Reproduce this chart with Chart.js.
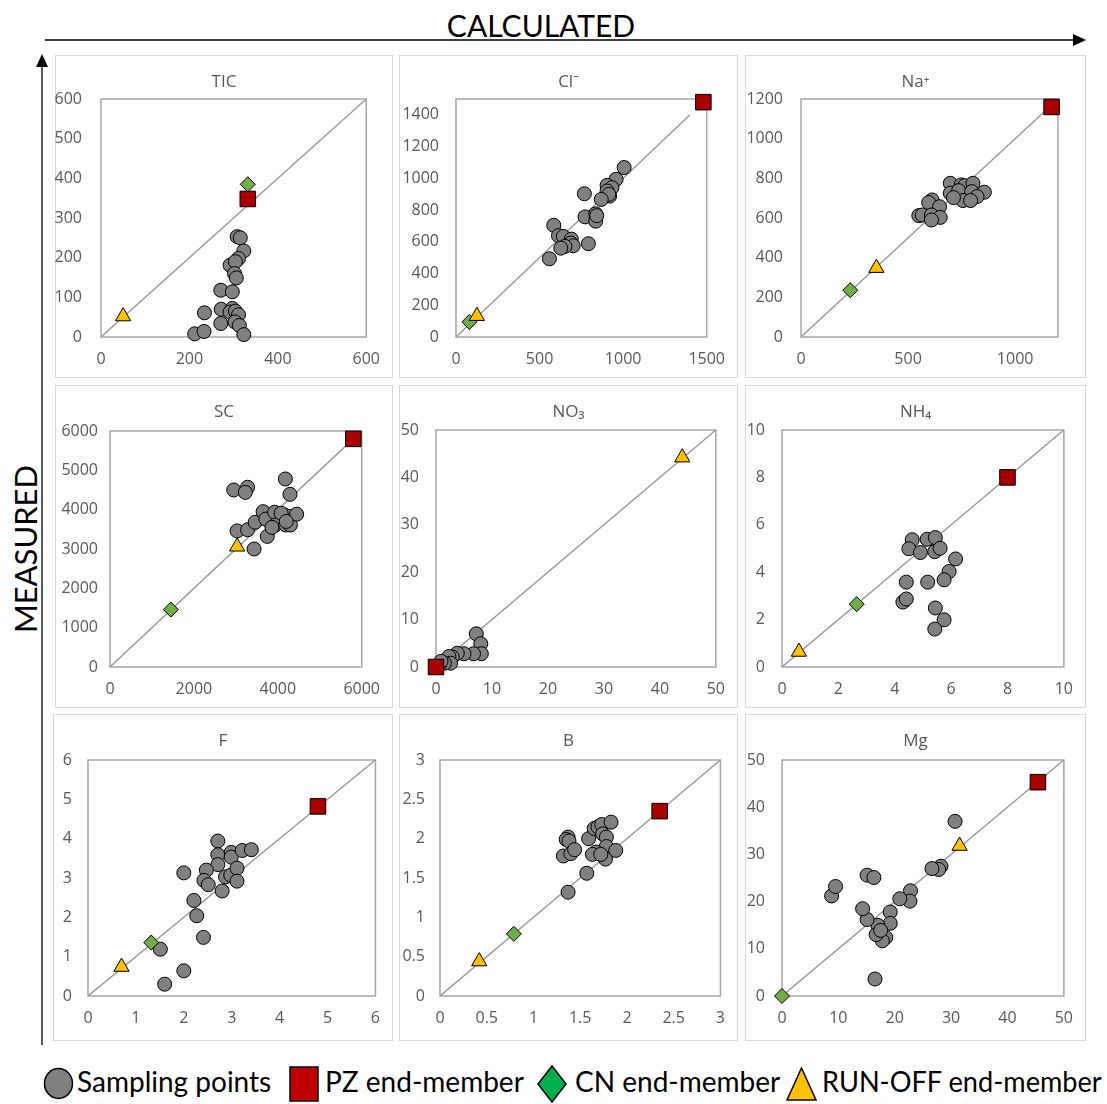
<!DOCTYPE html>
<html>
<head>
<meta charset="utf-8">
<script src="https://cdn.jsdelivr.net/npm/chart.js@4.4.1/dist/chart.umd.min.js"></script>
<style>
  body { margin: 0; background: #fff; width: 1107px; height: 1104px; position: relative; overflow: hidden; font-family: Lato, 'Open Sans', sans-serif; }
  canvas.panel { position: absolute; }
  .axis-title { position: absolute; font-size: 30px; line-height: 1; color: #000; white-space: nowrap; }
  .legend-text { position: absolute; top: 1067px; font-size: 28px; line-height: 1; color: #000; white-space: nowrap; transform-origin: 0 50%; }
  .legend-mark { position: absolute; }
</style>
</head>
<body>

<svg width="1107" height="1104" style="position:absolute;left:0;top:0">
  <line x1="45" y1="40" x2="1076" y2="40" stroke="#000" stroke-width="1.3"/>
  <polygon points="1086,40 1073,34 1073,46" fill="#000"/>
  <line x1="42" y1="1045" x2="42" y2="64" stroke="#000" stroke-width="1.3"/>
  <polygon points="42,54 36,67 48,67" fill="#000"/>
</svg>

<div class="axis-title" style="left:541px; top:10px; transform:translateX(-50%)">CALCULATED</div>
<div class="axis-title" style="left:25px; top:549px; font-size:31px; transform:translate(-50%,-50%) rotate(-90deg)">MEASURED</div>

<svg class="legend-mark" style="left:43px; top:1067px" width="31" height="33">
  <ellipse cx="15.5" cy="16.5" rx="14" ry="15" fill="#808080" stroke="#000" stroke-width="1.5"/>
</svg>
<div class="legend-text" style="left:77px">Sampling points</div>
<svg class="legend-mark" style="left:289px; top:1066px" width="31" height="37">
  <rect x="1" y="1" width="28" height="34" fill="#c00000" stroke="#000" stroke-width="1.5"/>
</svg>
<div class="legend-text" style="left:325px">PZ end-member</div>
<svg class="legend-mark" style="left:536px; top:1065px" width="32" height="38">
  <polygon points="16,1 30,19 16,37 2,19" fill="#00b050" stroke="#000" stroke-width="1.5"/>
</svg>
<div class="legend-text" style="left:575px">CN end-member</div>
<svg class="legend-mark" style="left:785px; top:1067px" width="33" height="35">
  <polygon points="16.5,1 31,33 2,33" fill="#ffc000" stroke="#000" stroke-width="1.5"/>
</svg>
<div class="legend-text" style="left:822px; transform:scaleX(0.97)">RUN-OFF end-member</div>

<script>
// Measured vs calculated concentrations, one panel per parameter.
const titles = ['TIC', 'Cl⁻', 'Na⁺', 'SC', 'NO₃', 'NH₄', 'F', 'B', 'Mg'];
const axisMax = [600, 1500, 1200, 6000, 50, 10, 6, 3, 50];
const xTicks = [
  [0, 200, 400, 600],
  [0, 500, 1000, 1500],
  [0, 500, 1000],
  [0, 2000, 4000, 6000],
  [0, 10, 20, 30, 40, 50],
  [0, 2, 4, 6, 8, 10],
  [0, 1, 2, 3, 4, 5, 6],
  [0, 0.5, 1, 1.5, 2, 2.5, 3],
  [0, 10, 20, 30, 40, 50],
];
const yTicks = [
  [0, 100, 200, 300, 400, 500, 600],
  [0, 200, 400, 600, 800, 1000, 1200, 1400],
  [0, 200, 400, 600, 800, 1000, 1200],
  [0, 1000, 2000, 3000, 4000, 5000, 6000],
  [0, 10, 20, 30, 40, 50],
  [0, 2, 4, 6, 8, 10],
  [0, 1, 2, 3, 4, 5, 6],
  [0, 0.5, 1, 1.5, 2, 2.5, 3],
  [0, 10, 20, 30, 40, 50],
];
// where the 1:1 line stops in each panel
const lineEnd = [600, 1400, 1200, 5800, 50, 10, 6, 3, 50];

// sampling points: [calculated, measured]
const ticSampling = [[212,8],[233,14],[234,61],[271,34],[272,70],[271,118],[297,114],[292,181],[308,253],[315,250],[323,217],[311,198],[304,190],[302,160],[306,149],[297,72],[292,63],[304,65],[311,56],[303,38],[313,29],[323,6]];
const clSampling = [[1006,1068],[958,994],[904,956],[933,941],[904,920],[919,888],[914,899],[869,867],[768,903],[772,757],[836,776],[836,730],[842,765],[585,704],[613,639],[642,634],[690,617],[687,592],[701,575],[652,571],[627,560],[792,588],[559,493]];
const naSampling = [[697,775],[748,767],[764,763],[803,775],[697,725],[736,738],[797,733],[856,730],[822,708],[756,688],[792,688],[712,703],[612,691],[596,678],[647,657],[550,612],[566,615],[609,615],[650,603],[609,590]];
const scSampling = [[2950,4500],[3280,4570],[3225,4440],[4180,4780],[4290,4390],[3030,3460],[3280,3490],[3460,3680],[3650,3950],[3715,3760],[3750,3320],[3435,3000],[3925,3935],[3940,3610],[3860,3550],[4150,3870],[4190,3610],[4280,3825],[4300,3610],[4450,3885],[4080,3910],[4200,3700]];
const no3Sampling = [[7.2,7.0],[8.0,4.9],[8.1,2.8],[6.7,2.8],[5.0,2.8],[3.8,2.9],[2.9,2.1],[2.3,2.2],[2.6,0.8],[1.5,0.8],[0.6,0.5],[0.9,1.2]];
const nh4Sampling = [[4.62,5.37],[5.15,5.39],[5.44,5.46],[4.5,4.99],[4.91,4.83],[5.42,4.87],[5.61,5.01],[6.16,4.56],[5.93,4.03],[5.75,3.68],[4.41,3.58],[5.17,3.58],[4.29,2.74],[4.41,2.87],[5.44,2.49],[5.75,1.99],[5.42,1.6]];
const fSampling = [[2.71,3.94],[2.71,3.59],[2.71,3.34],[2.99,3.65],[2.99,3.53],[3.22,3.7],[3.41,3.72],[2.0,3.13],[2.47,3.2],[2.42,2.94],[2.51,2.83],[2.87,3.03],[2.98,3.07],[3.11,3.25],[3.11,2.92],[2.8,2.67],[2.21,2.43],[2.27,2.04],[2.41,1.49],[1.51,1.19],[2.0,0.64],[1.6,0.3]];
const bSampling = [[1.37,2.02],[1.35,1.99],[1.38,1.97],[1.32,1.78],[1.4,1.81],[1.44,1.86],[1.59,2.0],[1.65,2.13],[1.69,2.15],[1.73,2.18],[1.83,2.21],[1.74,2.06],[1.78,2.02],[1.78,1.9],[1.88,1.85],[1.67,1.83],[1.63,1.8],[1.77,1.74],[1.57,1.56],[1.37,1.32],[1.72,1.8]];
const mgSampling = [[30.7,37.0],[28.2,27.5],[27.8,26.8],[26.6,27.0],[22.8,22.3],[22.7,20.1],[20.9,20.6],[19.2,17.8],[19.2,15.4],[18.4,12.4],[17.8,11.7],[17.0,15.0],[16.7,13.0],[17.5,13.9],[15.1,16.2],[14.3,18.5],[15.1,25.6],[16.3,25.1],[8.8,21.2],[9.5,23.2],[16.5,3.6]];
const sampling = [ticSampling, clSampling, naSampling, scSampling, no3Sampling, nh4Sampling, fSampling, bSampling, mgSampling];

// end-members, one entry per panel (null = not plotted)
const pzEnd = [[332,348],[1480,1480],[1170,1160],[5800,5800],[0,0],[8,8],[4.8,4.82],[2.35,2.35],[45.4,45.3]];
const cnEnd = [[332,385],[80,95],[230,236],[1450,1460],null,[2.65,2.65],[1.32,1.36],[0.79,0.79],[0,0]];
const runoffEnd = [[50,52],[125,132],[352,348],[3030,3060],[44,44.2],[0.6,0.64],[0.7,0.74],[0.42,0.44],[31.5,31.8]];

// page layout: panel frame [left, top, width, height] and plot area [left, top, right, bottom]
const panelBox = [[55,55,338,323],[399,55,339,323],[745,55,341,323],[55,385,338,323],[399,385,339,323],[745,385,341,323],[53,714,340,327],[399,714,339,327],[745,714,341,327]];
const plotBox = [[101,99,372,337],[456,99,714,337],[801,99,1058,337],[110,431,367,667],[436,430,721,667],[782,430,1067,667],[88,760,376,996],[440,760,726,996],[782,760,1067,996]];
const yLabelGap = [19, 17, 18, 12, 17, 17, 16, 15, 17];

const TICK_FONT = { family: "'Open Sans', 'Noto Sans', sans-serif", size: 16 };
const GREY_TEXT = '#595959';

const framePlugin = {
  id: 'panelFrame',
  beforeDraw(chart, args, opts) {
    const { ctx, width, height } = chart;
    ctx.save();
    ctx.fillStyle = '#fff';
    ctx.fillRect(0, 0, width, height);
    ctx.strokeStyle = '#d9d9d9';
    ctx.lineWidth = 1;
    ctx.strokeRect(0.5, 0.5, width - 1, height - 1);
    ctx.fillStyle = GREY_TEXT;
    ctx.font = "17px 'Open Sans', 'Noto Sans', 'DejaVu Sans', sans-serif";
    ctx.textAlign = 'center';
    ctx.textBaseline = 'middle';
    ctx.fillText(opts.title, width / 2, 27);
    ctx.restore();
  },
  beforeDatasetsDraw(chart) {
    const { ctx, chartArea: a } = chart;
    ctx.save();
    ctx.strokeStyle = '#a6a6a6';
    ctx.lineWidth = 1.5;
    ctx.strokeRect(a.left, a.top, a.right - a.left, a.bottom - a.top);
    ctx.restore();
  }
};

const toPoint = ([x, y]) => ({ x, y });

function makePanel(i) {
  const [px, py, pw, ph] = panelBox[i];
  const [l, t, r, b] = plotBox[i];

  const cv = document.createElement('canvas');
  cv.className = 'panel';
  cv.width = pw;
  cv.height = ph;
  cv.style.left = px + 'px';
  cv.style.top = py + 'px';
  cv.style.width = pw + 'px';
  cv.style.height = ph + 'px';
  document.body.appendChild(cv);

  const marker = (data, style, radius, fill, order) => ({
    data: data ? [toPoint(data)] : [],
    pointStyle: style,
    pointRadius: radius,
    pointHoverRadius: radius,
    backgroundColor: fill,
    borderColor: '#000',
    borderWidth: 1,
    clip: false,
    order,
  });

  const datasets = [
    {
      data: [{ x: 0, y: 0 }, { x: lineEnd[i], y: lineEnd[i] }],
      showLine: true,
      pointRadius: 0,
      borderColor: '#9a9a9a',
      borderWidth: 1.4,
      order: 10,
    },
    Object.assign(marker(null, 'circle', 7, '#808080', 5), { data: sampling[i].map(toPoint) }),
    marker(pzEnd[i], 'rect', 11, '#a80000', 3),
    marker(cnEnd[i], 'rectRot', 7.5, '#70ad47', 2),
    marker(runoffEnd[i], 'triangle', 8.8, '#ffc000', 1),
  ];

  const axis = (values, fit, pad) => ({
    type: 'linear',
    min: 0,
    max: axisMax[i],
    grid: { display: false, drawTicks: false },
    border: { display: false },
    afterBuildTicks: (s) => { s.ticks = values.map((v) => ({ value: v })); },
    ticks: {
      autoSkip: false,
      maxRotation: 0,
      padding: pad,
      color: GREY_TEXT,
      font: TICK_FONT,
      callback: (v) => String(v),
    },
    afterFit: fit,
  });

  new Chart(cv, {
    type: 'scatter',
    data: { datasets },
    options: {
      responsive: false,
      animation: false,
      devicePixelRatio: 1,
      events: [],
      layout: { padding: { top: t - py, right: px + pw - r, left: 0, bottom: 0 } },
      plugins: {
        legend: { display: false },
        tooltip: { enabled: false },
        panelFrame: { title: titles[i] },
      },
      scales: {
        x: axis(xTicks[i], (s) => { s.height = py + ph - b; }, 13),
        y: axis(yTicks[i], (s) => { s.width = l - px; }, yLabelGap[i]),
      },
    },
    plugins: [framePlugin],
  });
}

titles.forEach((_, i) => makePanel(i));
</script>
</body>
</html>
